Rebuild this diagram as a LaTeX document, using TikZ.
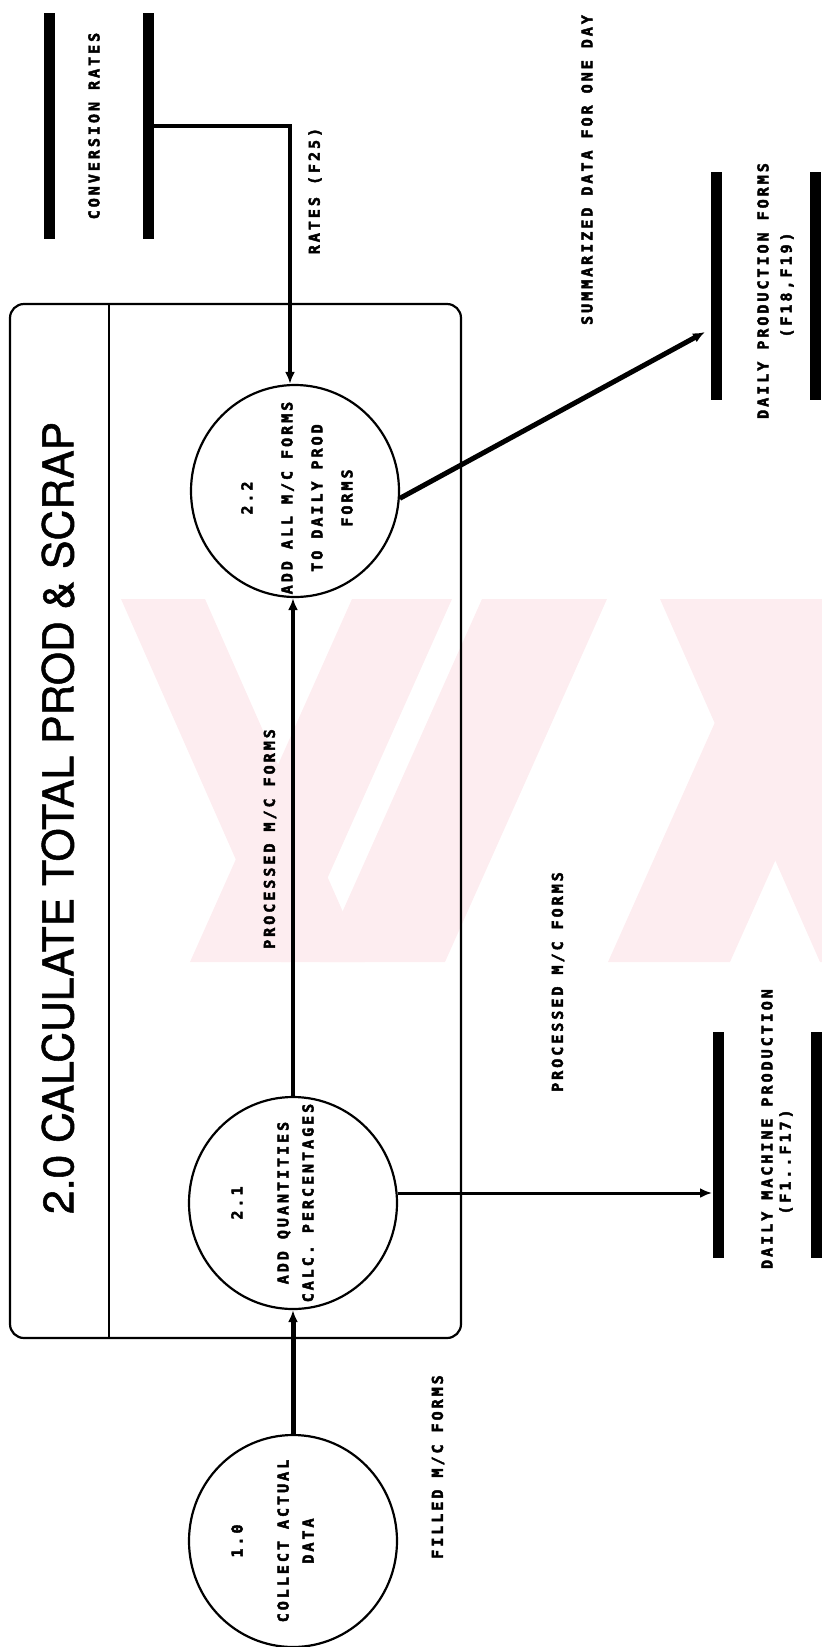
\documentclass[tikz,border=0pt]{standalone}
\usepackage{fontspec}
\usetikzlibrary{arrows.meta,shapes.geometric,calc}
\newfontfamily\dotfont[LetterSpace=20, FakeBold=3]{DejaVu Sans Mono}
\newfontfamily\titlefont[FakeBold=1.2]{TeX Gyre Heros}
\definecolor{wmark}{RGB}{253,237,240}
\begin{document}
\begin{tikzpicture}[x=1pt,y=-1pt,
  lbl/.style={font=\dotfont\bfseries\fontsize{15}{18}\selectfont, rotate=90, inner sep=0pt},
  proctext/.style={lbl, align=center},
  proc/.style={draw, line width=2.2pt, ellipse, minimum width=208pt, minimum height=212pt, inner sep=0pt},
  bar/.style={line width=11pt},
  flow/.style={line width=4pt, -{Latex[length=12pt,width=10pt]}},
  frame/.style={draw, line width=2.2pt, rounded corners=14pt, inner sep=0pt},
  band/.style={fill=wmark, draw=none}
]
\useasboundingbox (0,0) rectangle (822,1647);

% faint watermark
\begin{scope}
\clip (0,599) rectangle (822,962);
\fill[band] (121,599) -- (205,599) -- (365,962) -- (281,962) -- cycle;
\fill[band] (190,962) -- (290,962) -- (452,599) -- (352,599) -- cycle;
\fill[band] (320,962) -- (445,962) -- (607,599) -- (482,599) -- cycle;
\fill[band] (660,599) -- (770,599) -- (930,962) -- (820,962) -- cycle;
\fill[band] (608,962) -- (730,962) -- (892,599) -- (770,599) -- cycle;
\end{scope}

% data stores
\draw[bar] (49,13) -- (49,239);
\draw[bar] (148,13) -- (148,239);
\node[lbl] (convlbl) at (94,126) {CONVERSION RATES};

\draw[bar] (716,172) -- (716,400);
\draw[bar] (815,172) -- (815,400);
\node[lbl] (dpflbl) at (763,291) {DAILY PRODUCTION FORMS};
\node[lbl] (dpflbl2) at (787,285) {(F18,F19)};

\draw[bar] (718,1032) -- (718,1258);
\draw[bar] (816,1032) -- (816,1258);
\node[lbl] (dmplbl) at (767,1129) {DAILY MACHINE PRODUCTION};
\node[lbl] (dmplbl2) at (786,1162) {(F1..F17)};

% main process frame
\node[frame, minimum width=451pt, minimum height=1034pt] (box) at (235.5,821) {};
\draw[line width=2.2pt] ([xshift=100pt]box.north west) -- ([xshift=100pt]box.south west);
\node[rotate=90, inner sep=0pt, font=\titlefont\fontsize{42.7}{50}\selectfont] (title) at (58,818) {2.0 CALCULATE TOTAL PROD \& SCRAP};

% processes
\node[proc] (p22) at (295,491) {};
\node[proctext, font=\dotfont\bfseries\fontsize{15}{30}\selectfont] (t22) at (297,498) {2.2\\[10pt]ADD ALL M/C FORMS\\TO DAILY PROD\\FORMS};

\node[proc] (p21) at (293,1203) {};
\node[proctext, font=\dotfont\bfseries\fontsize{15}{25}\selectfont] (t21) at (272.5,1203) {2.1\\[21pt]ADD QUANTITIES\\CALC. PERCENTAGES};

\node[proc] (p10) at (293,1541) {};
\node[proctext, font=\dotfont\bfseries\fontsize{15}{25}\selectfont] (t10) at (272.5,1541) {1.0\\[21pt]COLLECT ACTUAL\\DATA};

% connectors
\coordinate (cin) at (154,126);
\coordinate (dmpin) at (712,1193);
\coordinate (dpfin) at (705,332);

\draw[flow] (cin) -| ([xshift=-5pt]p22.north);
\draw[flow] (p21.north) -- (p21.north |- p22.south);
\draw[flow, line width=5pt] (p10.north) -- (p10.north |- p21.south);
\draw[flow, line width=3pt] (p21.east |- dmpin) -- (dmpin);
\draw[flow, line width=5pt] (p22.-4) -- (dpfin);

% flow labels
\node[lbl] (lrates) at (315,191) {RATES (F25)};
\node[lbl] (lsum) at (587,170) {SUMMARIZED DATA FOR ONE DAY};
\node[lbl] (lproc1) at (270,839) {PROCESSED M/C FORMS};
\node[lbl] (lproc2) at (558,982) {PROCESSED M/C FORMS};
\node[lbl] (lfill) at (438,1467) {FILLED M/C FORMS};
\end{tikzpicture}
\end{document}
